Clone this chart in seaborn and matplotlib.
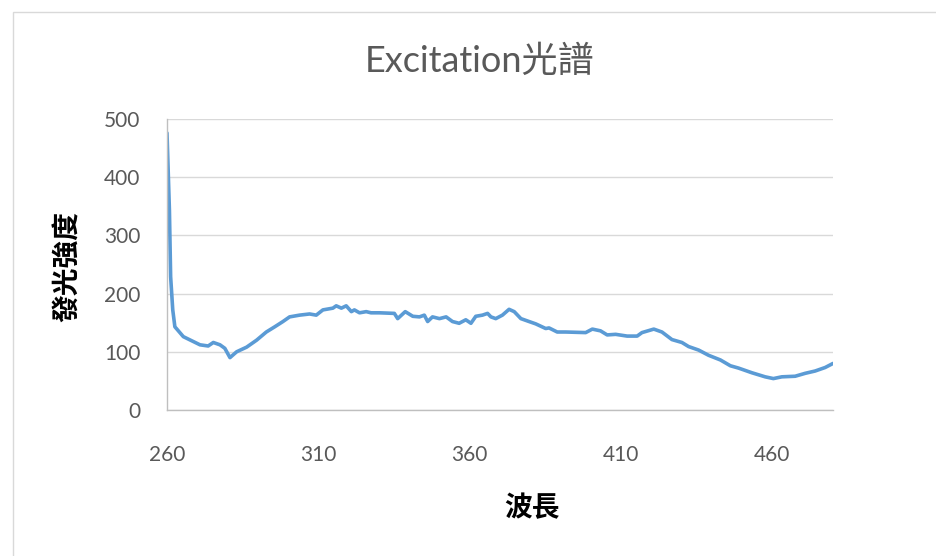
import matplotlib
matplotlib.use("Agg")
import matplotlib.pyplot as plt
from matplotlib.patches import Rectangle
import pandas as pd
import seaborn as sns

# values
wavelength = [260.0, 260.8, 261.2, 261.9, 262.6, 265.4, 270.9, 273.6, 275.3, 277.5,
              279.1, 280.8, 283.0, 286.3, 289.6, 292.8, 295.6, 298.3, 300.5, 303.8,
              307.1, 309.3, 311.5, 314.8, 315.9, 317.6, 319.2, 320.9, 321.9, 323.6,
              325.8, 327.4, 330.2, 335.1, 336.2, 338.7, 341.2, 343.4, 345.0, 346.1,
              347.7, 350.0, 352.2, 354.3, 356.5, 358.7, 360.4, 362.0, 364.2, 365.9,
              367.0, 368.6, 370.8, 373.0, 374.7, 376.9, 379.6, 381.8, 385.1, 386.2,
              388.9, 391.7, 398.3, 400.5, 403.2, 405.4, 408.2, 412.0, 415.3, 416.9,
              420.8, 423.5, 426.8, 430.1, 432.3, 435.6, 438.9, 442.8, 446.1, 448.8,
              453.2, 457.6, 460.3, 463.1, 467.5, 470.8, 474.1, 477.4, 480.0]
intensity = [476, 343, 229, 172, 143, 126, 112, 110, 116, 112,
             106, 90, 100, 108, 120, 134, 143, 152, 160, 163,
             165, 163, 172, 175, 179, 175, 179, 169, 172, 167,
             169, 167, 167, 166, 157, 169, 161, 160, 163, 152,
             160, 157, 160, 152, 149, 155, 149, 161, 163, 166,
             160, 157, 163, 173, 169, 157, 152, 148, 140, 141,
             134, 134, 133, 139, 136, 129, 130, 127, 127, 133,
             139, 134, 121, 116, 109, 103, 94, 86, 76, 72,
             64, 57, 54, 57, 58, 63, 67, 73, 80]
x_ticks = [260, 310, 360, 410, 460]
y_ticks = [0, 100, 200, 300, 400, 500]

title = "Excitation光譜"
x_label = "波長"
y_label = "發光強度"

df = pd.DataFrame({"wavelength": wavelength, "intensity": intensity})

sns.set_style("white")
plt.rcParams["font.family"] = ["Lato", "Noto Sans CJK TC", "DejaVu Sans"]

fig = plt.figure(figsize=(9.36, 5.56), dpi=100)
ax = fig.add_axes([167 / 936, 1 - 410 / 556, (833 - 167) / 936, (410 - 119) / 556])

sns.lineplot(data=df, x="wavelength", y="intensity", ax=ax, sort=False,
             color="#5b9bd5", linewidth=2.6)

ax.set_xlim(260, 480)
ax.set_ylim(0, 500)
ax.set_xticks(x_ticks)
ax.set_yticks(y_ticks)
ax.tick_params(axis="both", length=0, labelsize=15, labelcolor="#595959")
ax.tick_params(axis="x", pad=25)
ax.tick_params(axis="y", pad=19)
ax.grid(axis="y", color="#d9d9d9", linewidth=1)
ax.set_axisbelow(True)
for side in ["top", "right"]:
    ax.spines[side].set_visible(False)
for side in ["left", "bottom"]:
    ax.spines[side].set_color("#bfbfbf")
    ax.spines[side].set_linewidth(1)
ax.set_xlabel("")
ax.set_ylabel("")

cjk = ["Noto Sans CJK TC", "DejaVu Sans"]
fig.text(480 / 936, 1 - 61 / 556, title, ha="center", va="center",
         fontsize=26, color="#595959", family=["Lato", "Noto Sans CJK TC"])
fig.text(532 / 936, 1 - 508 / 556, x_label, ha="center", va="center",
         fontsize=20, fontweight="bold", color="black", family=cjk)
fig.text(68 / 936, 1 - 267 / 556, y_label, ha="center", va="center",
         rotation=90, fontsize=20, fontweight="bold", color="black", family=cjk)

# chart-area border
fig.patches.append(Rectangle((13 / 936, -0.05), 1.0, 1 - 12 / 556 + 0.05,
                             transform=fig.transFigure, fill=False,
                             edgecolor="#d9d9d9", linewidth=1))

fig.savefig("out.png", dpi=100)
